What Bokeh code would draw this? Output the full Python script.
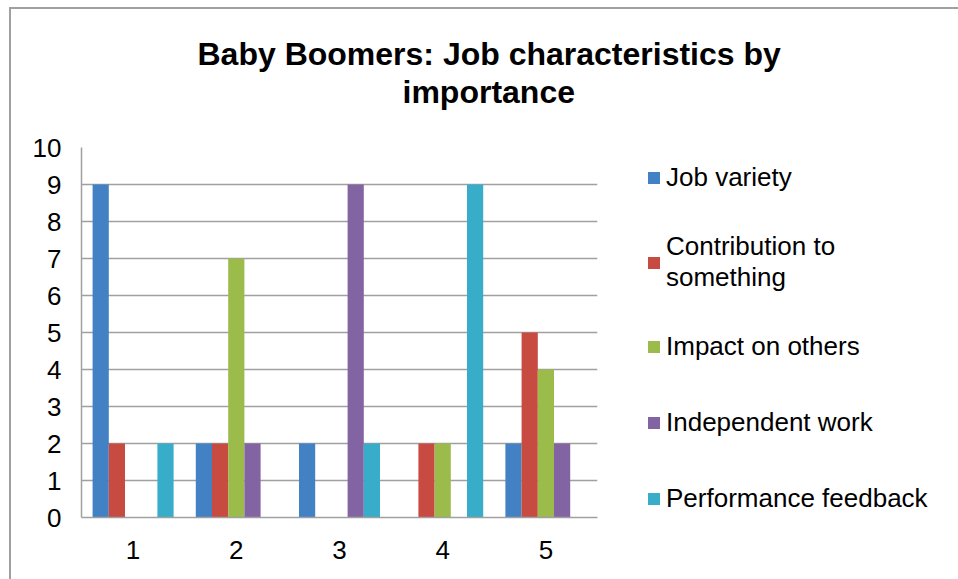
from bokeh.plotting import figure
from bokeh.models import ColumnDataSource, Legend, LegendItem, Range1d, Title
from bokeh.transform import dodge
from bokeh.embed import file_html
from bokeh.resources import INLINE

categories = ["1", "2", "3", "4", "5"]
series_names = ["Job variety", "Contribution to\nsomething", "Impact on others",
                "Independent work", "Performance feedback"]
title_lines = ["Baby Boomers: Job characteristics by", "importance"]
job_variety = [9, 2, 2, 0, 2]
contribution = [2, 2, 0, 2, 5]
impact = [0, 7, 0, 2, 4]
independent = [0, 2, 9, 0, 2]
performance = [2, 0, 2, 9, 0]
y_ticks = [0, 1, 2, 3, 4, 5, 6, 7, 8, 9, 10]

colors = ["#4281c4", "#c84b42", "#9bbb4b", "#8264a3", "#37adc9"]
FONT = "Liberation Sans"

src = ColumnDataSource(dict(cat=categories, jv=job_variety, co=contribution,
                            im=impact, ind=independent, pf=performance))
cols = ["jv", "co", "im", "ind", "pf"]

p = figure(x_range=categories, y_range=Range1d(0, 10),
           frame_width=516, frame_height=370,
           output_backend="svg", toolbar_location=None,
           min_border_left=70, min_border_right=361, min_border_top=138,
           min_border_bottom=62)
p.styles = {"border-left": "2px solid #a0a0a0", "border-top": "2px solid #a0a0a0",
            "margin-left": "9px", "margin-top": "7px"}

bw = 0.157
offsets = [-2 * bw, -bw, 0, bw, 2 * bw]
renderers = []
for c, off, col in zip(cols, offsets, colors):
    r = p.vbar(x=dodge("cat", off, range=p.x_range), top=c, width=bw, bottom=0,
               source=src, fill_color=col, line_color=None)
    renderers.append(r)

p.outline_line_color = None
p.xgrid.grid_line_color = None
p.ygrid.grid_line_color = "#a0a0a0"
p.ygrid.grid_line_width = 1.5
p.yaxis.ticker = y_ticks
for ax in (p.xaxis[0], p.yaxis[0]):
    ax.axis_line_color = "#a0a0a0"
    ax.axis_line_width = 1.5
    ax.major_tick_line_color = None
    ax.minor_tick_line_color = None
    ax.major_label_text_font = FONT
    ax.major_label_text_font_size = "26px"
    ax.major_label_text_color = "black"
p.yaxis.major_label_standoff = 14
p.xaxis.major_label_standoff = 17

# title: spacer nearest the frame, then line 2, then line 1
p.add_layout(Title(text=" ", text_font_size="10px", standoff=25), "above")
p.add_layout(Title(text=title_lines[1], align="left", offset=321, standoff=0,
                   text_font=FONT, text_font_size="32px", text_font_style="bold",
                   text_color="black"), "above")
p.add_layout(Title(text=title_lines[0], align="left", offset=116, standoff=0,
                   text_font=FONT, text_font_size="32px", text_font_style="bold",
                   text_color="black"), "above")

legend = Legend(items=[LegendItem(label=n, renderers=[r]) for n, r in zip(series_names, renderers)],
                location=(49, -4))
legend.label_text_font = FONT
legend.label_text_font_size = "26px"
legend.label_text_color = "black"
legend.glyph_width = 15
legend.glyph_height = 15
legend.label_height = 45
legend.label_standoff = 5
legend.spacing = 31
legend.padding = 0
legend.margin = 0
legend.border_line_color = None
legend.background_fill_alpha = 0
p.add_layout(legend, "right")

open("out.html", "w").write(file_html(p, INLINE))
